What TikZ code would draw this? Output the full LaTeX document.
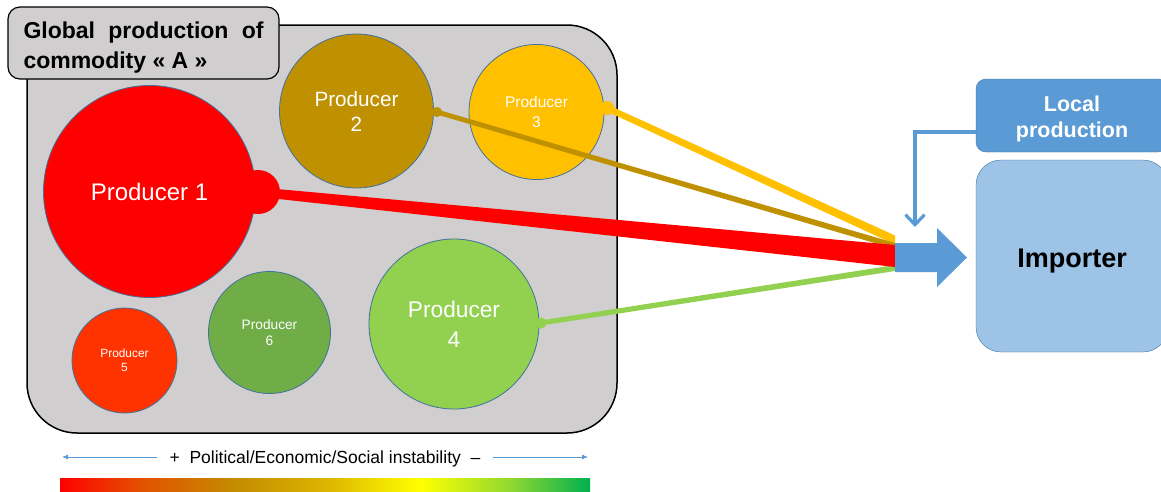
\documentclass[tikz,border=0pt]{standalone}
\usepackage{fontspec}
\setmainfont{Liberation Sans}
\usetikzlibrary{calc,arrows.meta}
\definecolor{boxgrey}{HTML}{D0CECE}
\definecolor{edgeblue}{HTML}{41719C}
\definecolor{lpblue}{HTML}{5B9BD5}
\definecolor{impblue}{HTML}{9DC3E6}
\definecolor{pone}{HTML}{FF0000}
\definecolor{ptwo}{HTML}{BF9000}
\definecolor{pthree}{HTML}{FFC000}
\definecolor{pfour}{HTML}{92D050}
\definecolor{pfive}{HTML}{FF3300}
\definecolor{psix}{HTML}{70AD47}
\definecolor{gra}{HTML}{E45000}
\definecolor{grb}{HTML}{C48C00}
\definecolor{grc}{HTML}{DCB400}
\definecolor{grd}{HTML}{FFFF00}
\definecolor{gre}{HTML}{90D830}
\definecolor{grf}{HTML}{00B050}
\pgfdeclarehorizontalshading{instab}{100bp}{color(0bp)=(pone); color(25bp)=(pone); color(32.5bp)=(gra); color(41.5bp)=(grb); color(50bp)=(grc); color(59bp)=(grd); color(67.5bp)=(gre); color(75bp)=(grf); color(100bp)=(grf)}
\tikzset{
  producer/.style={circle, draw=edgeblue, line width=0.8pt, text=white, align=center, inner sep=0pt},
  blob/.style={circle, fill=#1, inner sep=0pt},
  scalearrow/.style={lpblue, line width=0.8pt, -{Latex[length=6pt,width=5pt]}}
}
\begin{document}
\begin{tikzpicture}[x=1pt,y=-1pt]
\useasboundingbox (0,0) rectangle (1161,491);
\node[draw, line width=1.5pt, fill=boxgrey, rounded corners=50pt, minimum width=590pt, minimum height=408pt] (world) at (322,229) {};
\node[draw, line width=1.2pt, fill=boxgrey, rounded corners=12pt, minimum width=271pt, minimum height=72pt, text width=240pt, text depth=25pt, align=justify, font=\bfseries\fontsize{23}{30}\selectfont] (title) at (143.5,43) {Global production of\linebreak commodity « A »};
\node[producer, fill=pone, minimum size=212pt, font=\fontsize{24}{29}\selectfont] (p1) at (149.5,191.5) {Producer 1};
\node[producer, fill=ptwo, minimum size=154pt, font=\fontsize{20.7}{25}\selectfont] (p2) at (356.5,111) {Producer\\2};
\node[producer, fill=pthree, minimum size=135pt, font=\fontsize{15.5}{20}\selectfont] (p3) at (536.5,112) {Producer\\3};
\node[producer, fill=pfour, minimum size=170pt, font=\fontsize{22.7}{30}\selectfont] (p4) at (454,324) {Producer\\4};
\node[producer, fill=pfive, minimum size=105pt, font=\fontsize{11.9}{14}\selectfont] (p5) at (124.5,360.5) {Producer\\5};
\node[producer, fill=psix, minimum size=122pt, font=\fontsize{13.7}{16}\selectfont] (p6) at (269.5,332.5) {Producer\\6};
\node[blob=pone, minimum size=44pt] (b1) at (258,192) {};
\node[blob=ptwo, minimum size=10pt] (b2) at (437,112) {};
\node[blob=pthree, minimum size=14pt] (b3) at (607,108) {};
\node[blob=pfour, minimum size=11pt] (b4) at (541,323) {};
\coordinate (arrin) at (895,257.5);
\fill[pthree] ($(b3.center)+(0,-3.5)$) -- ($(arrin)+(0,-22)$) -- ($(arrin)+(0,-13)$) -- ($(b3.center)+(0,3.5)$) -- cycle;
\fill[ptwo] ($(b2.center)+(0,-2.5)$) -- ($(arrin)+(0,-14.5)$) -- ($(arrin)+(0,-8.5)$) -- ($(b2.center)+(0,2.5)$) -- cycle;
\fill[pfour] ($(b4.center)+(0,-2.5)$) -- ($(arrin)+(0,7.5)$) -- ($(arrin)+(0,13.5)$) -- ($(b4.center)+(0,2.5)$) -- cycle;
\fill[pone] ($(b1.center)+(0,-4.7)$) -- ($(arrin)+(0,-12.5)$) -- ($(arrin)+(0,9.5)$) -- ($(b1.center)+(0,4.7)$) -- cycle;
\fill[lpblue] (arrin) ++(0,-14.5) -- ++(42,0) -- ++(0,-15) -- ++(30,29.5) -- ++(-30,29.5) -- ++(0,-15) -- ++(-42,0) -- cycle;
\node[draw=edgeblue, fill=impblue, rounded corners=25pt, minimum width=192pt, minimum height=192pt, text height=23pt, text depth=0pt, font=\bfseries\fontsize{27}{32}\selectfont] (imp) at (1072,256) {Importer};
\node[draw=edgeblue, fill=lpblue, rounded corners=10pt, minimum width=192pt, minimum height=73pt, text height=48pt, text depth=4.5pt, text=white, align=center, font=\bfseries\fontsize{21.5}{26}\selectfont] (loc) at (1072,115.5) {Local\\production};
\coordinate (lpin) at (915,227);
\draw[lpblue, line width=3.2pt, -{Straight Barb[length=10pt,width=19pt]}] ($(loc.west)+(0,16.5)$) -| (lpin);
\node[font=\fontsize{17.5}{21}\selectfont, inner sep=12pt] (scale) at (325,459) {+\ \ Political/Economic/Social instability\ \ –};
\coordinate (sl) at (62,457);
\coordinate (sr) at (588,457);
\draw[scalearrow] (scale.west |- sl) -- (sl);
\draw[scalearrow] (scale.east |- sr) -- (sr);
\shade[shading=instab] (60,478) rectangle (590,491);
\end{tikzpicture}
\end{document}
